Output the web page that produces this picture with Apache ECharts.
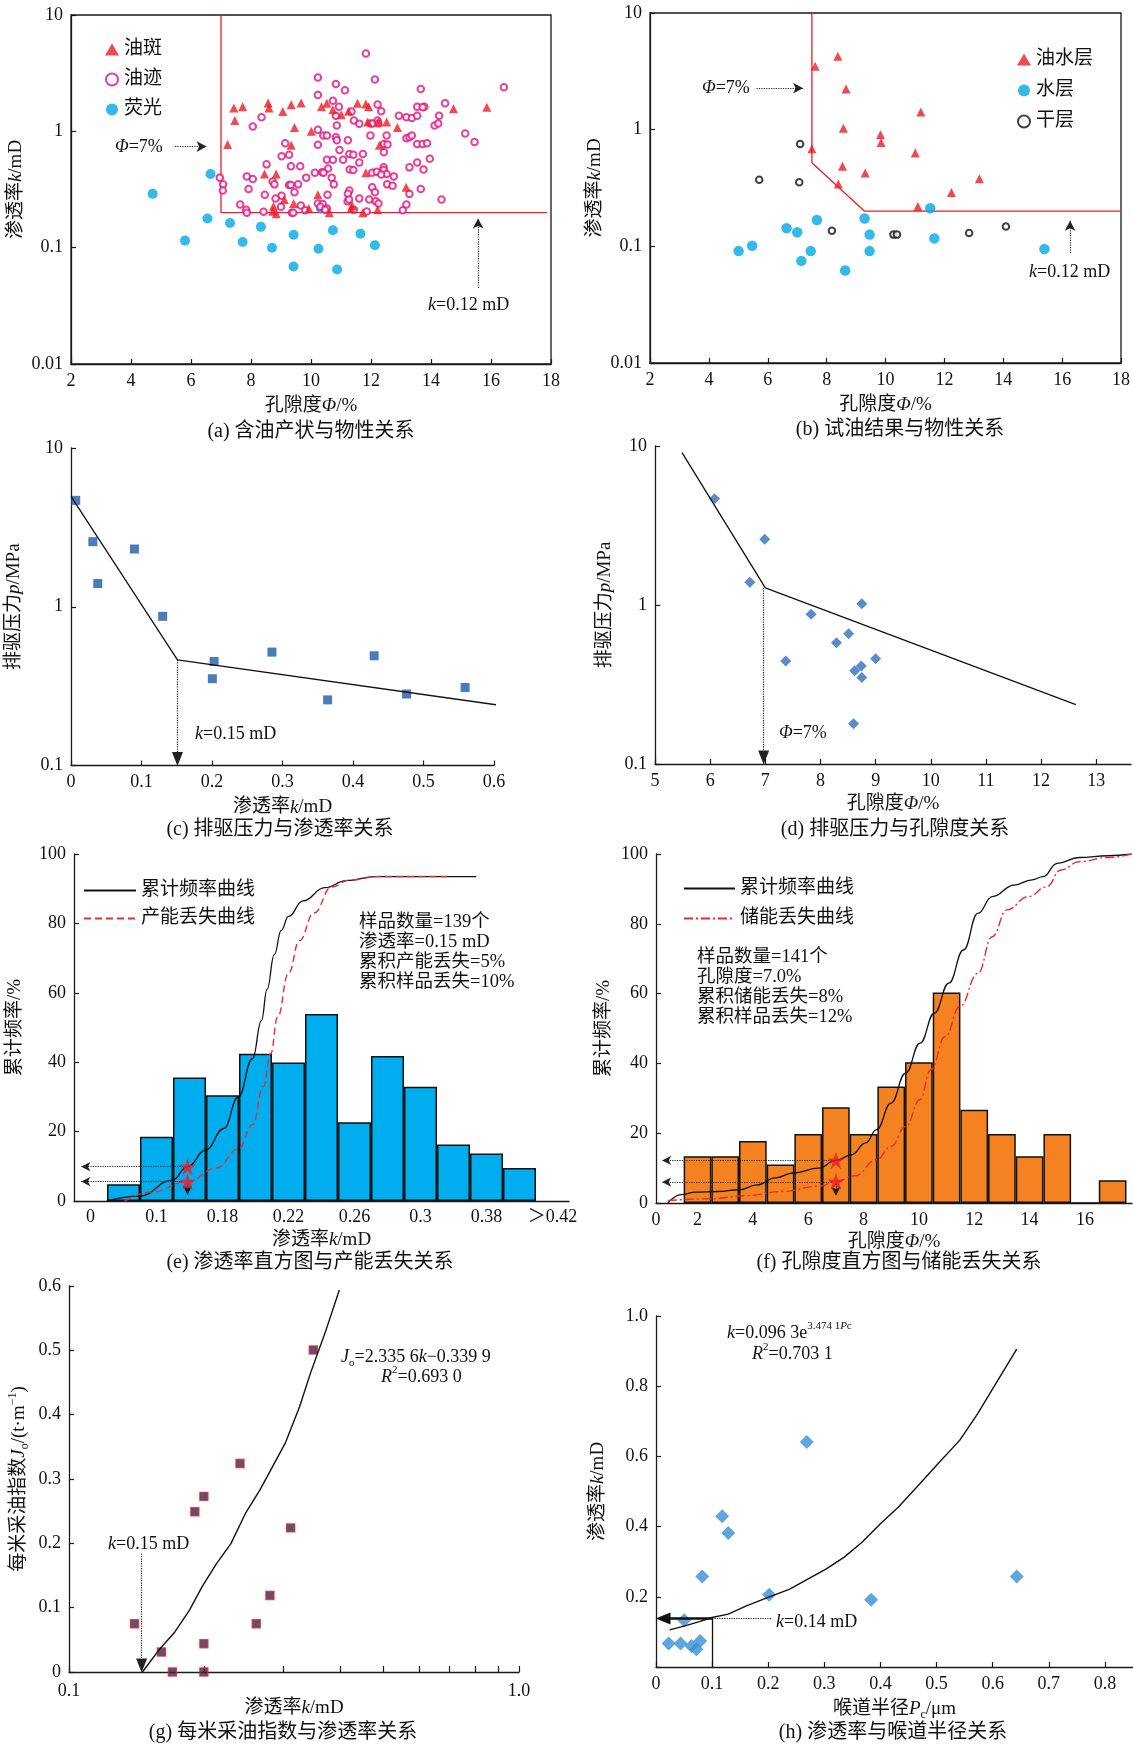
<!DOCTYPE html>
<html><head><meta charset="utf-8">
<script src="https://cdn.jsdelivr.net/npm/echarts@6.0.0/dist/echarts.min.js"></script>
<style>html,body{margin:0;padding:0;background:#fff}#c{width:1133px;height:1744px}</style>
</head><body><div id="c"></div>
<script>
// ---------------- DATA ----------------
// (a) porosity %, permeability mD
const spotA = [[7.43,1.59],[7.72,1.63],[7.46,1.24],[7.22,0.77],[8.57,1.75],[8.60,1.59],[9.06,1.48],[9.34,1.69],[9.67,1.75],[9.45,1.08],[9.34,0.76],[10.01,1.0],[10.23,0.285],[10.35,1.63],[10.53,1.74],[10.73,1.53],[11.01,1.39],[11.25,1.49],[11.55,1.74],[11.83,1.72],[11.92,1.63],[11.89,1.2],[12.25,1.2],[12.52,1.2],[12.88,1.08],[12.28,0.76],[11.83,0.44],[13.17,0.33],[14.75,1.56],[15.86,1.61],[8.45,0.43],[8.84,0.43],[8.75,0.227],[9.11,0.26],[9.42,0.24],[8.73,0.206],[8.84,0.196],[9.93,0.217],[10.61,0.20],[11.37,0.23],[11.34,0.217],[11.73,0.20],[12.22,0.212]];
const traceA = [[11.83,4.67],[10.23,2.90],[12.13,2.79],[10.83,2.55],[11.13,2.26],[13.66,2.31],[16.43,2.39],[10.23,2.05],[10.73,1.83],[10.93,1.63],[12.22,1.70],[12.34,1.49],[11.35,1.48],[14.47,1.74],[13.54,1.63],[13.78,1.63],[13.72,1.61],[14.27,1.36],[12.93,1.36],[13.18,1.32],[13.36,1.30],[13.54,1.36],[8.35,1.32],[8.06,1.10],[10.83,1.36],[11.43,1.24],[11.61,1.16],[11.98,1.17],[12.06,1.17],[12.22,1.24],[12.25,1.17],[10.86,1.12],[10.23,1.03],[14.12,1.12],[14.24,1.17],[15.14,0.96],[15.45,0.81],[12.52,0.92],[11.98,0.92],[10.41,0.92],[10.53,0.92],[10.83,0.89],[10.86,0.84],[11.23,0.84],[13.18,0.87],[13.28,0.89],[13.36,0.92],[9.14,0.79],[10.23,0.765],[12.43,0.78],[12.55,0.77],[13.54,0.78],[13.72,0.78],[13.87,0.79],[10.95,0.69],[12.43,0.66],[11.73,0.64],[11.28,0.64],[11.41,0.63],[9.27,0.63],[9.02,0.61],[10.53,0.57],[10.73,0.57],[11.07,0.57],[11.61,0.54],[13.96,0.58],[8.52,0.52],[9.33,0.50],[9.64,0.50],[13.54,0.54],[13.28,0.49],[13.75,0.47],[10.57,0.48],[12.42,0.49],[12.42,0.465],[11.29,0.47],[11.41,0.465],[7.86,0.41],[8.06,0.39],[10.13,0.44],[10.37,0.445],[10.42,0.44],[10.69,0.40],[9.84,0.40],[12.04,0.44],[12.19,0.45],[12.52,0.43],[12.76,0.41],[12.34,0.425],[6.96,0.40],[7.07,0.35],[7.06,0.31],[7.92,0.32],[8.72,0.37],[8.78,0.35],[9.27,0.345],[9.33,0.345],[9.57,0.35],[10.76,0.35],[12.04,0.33],[12.54,0.35],[12.72,0.34],[11.28,0.31],[13.66,0.32],[8.46,0.285],[9.02,0.28],[9.45,0.30],[10.55,0.285],[11.23,0.29],[12.13,0.30],[13.28,0.29],[14.35,0.26],[7.64,0.235],[7.84,0.212],[7.86,0.20],[8.42,0.204],[8.82,0.265],[9.0,0.225],[9.36,0.20],[9.66,0.23],[9.81,0.21],[10.23,0.24],[10.39,0.237],[10.53,0.217],[11.22,0.25],[11.27,0.26],[11.61,0.265],[11.94,0.26],[12.16,0.25],[12.25,0.24],[11.43,0.212],[11.86,0.205],[13.06,0.21],[13.18,0.235],[9.41,0.20],[10.31,0.225],[10.47,0.212]];
const fluorA = [[4.72,0.29],[6.65,0.43],[5.80,0.115],[6.55,0.178],[7.30,0.163],[7.72,0.112],[8.33,0.151],[8.70,0.10],[9.42,0.129],[9.42,0.069],[10.25,0.098],[10.73,0.141],[10.87,0.065],[11.65,0.132],[12.13,0.105],[10.33,0.217]];
const cutoffA = [[7,10],[7,0.2],[17.87,0.2]];

// (b)
const oilWaterB = [[8.38,4.25],[7.61,3.49],[8.66,2.23],[11.20,1.42],[8.57,1.03],[9.83,0.906],[9.85,0.778],[11.01,0.63],[7.50,0.687],[8.54,0.485],[9.31,0.425],[8.40,0.342],[13.19,0.38],[12.24,0.29],[11.10,0.22]];
const waterB = [[11.52,0.212],[9.29,0.173],[7.67,0.168],[6.64,0.143],[7.00,0.132],[9.46,0.126],[11.66,0.117],[5.01,0.091],[5.47,0.101],[7.46,0.091],[7.14,0.075],[9.46,0.091],[8.63,0.062],[15.40,0.095]];
const dryB = [[7.10,0.754],[5.71,0.373],[7.07,0.354],[8.18,0.136],[10.27,0.126],[10.39,0.126],[12.84,0.13],[14.09,0.148]];
const cutoffB = [[7.5,10],[7.5,0.52],[9.29,0.2],[18,0.2]];

// (c) permeability mD, displacement pressure MPa
const pressPermC = [[0.0067,4.68],[0.031,2.57],[0.090,2.31],[0.038,1.40],[0.130,0.87],[0.203,0.452],[0.2005,0.352],[0.285,0.518],[0.364,0.259],[0.430,0.491],[0.476,0.282],[0.559,0.31]];
const trendC = [[0,4.96],[0.151,0.463],[0.63,0.232]];

// (d) porosity %, displacement pressure MPa
const pressPorD = [[6.08,4.65],[6.99,2.59],[6.72,1.39],[8.75,1.02],[7.83,0.875],[8.51,0.659],[8.29,0.578],[7.37,0.444],[9.0,0.459],[8.74,0.413],[8.62,0.386],[8.75,0.35],[8.60,0.179]];
const trendD = [[5.49,9.08],[7.0,1.28],[12.63,0.236]];
const ticksD = [5,6,7,8,9,10,11,12,13];

// (e) permeability histogram (slots), cumulative curves in slot units
const binLabelsE = ['0','','0.1','','0.18','','0.22','','0.26','','0.3','','0.38','','＞0.42'];
const freqE = [null,4.8,18.5,35.6,30.5,42.4,39.9,53.9,22.7,41.8,32.9,16.3,13.7,9.5,null];
const cumE = [[0.99,0],[1.99,1.4],[2.98,6],[3.44,9.9],[3.99,14.7],[4.54,20.9],[4.98,30],[5.41,41],[5.68,52],[5.85,61],[6.07,71],[6.28,78],[6.50,82],[6.94,86.5],[7.60,90.3],[8.25,92.3],[9.13,93.5],[12.19,93.5]];
const lossE = [[1.53,0],[2.35,2.6],[3.44,5.6],[4.32,9.5],[4.98,15],[5.41,22],[5.74,33],[5.96,42.5],[6.17,53],[6.50,65.6],[6.83,75],[7.27,83],[7.81,90.5],[8.36,92.5],[9.23,93.5],[11.42,93.5]];
const starsE = [[3.44,9.9],[3.44,5.6]];
const notesE = ['样品数量=139个','渗透率=0.15 mD','累积产能丢失=5%','累积样品丢失=10%'];

// (f) porosity histogram
const binsF = [2,3,4,5,6,7,8,9,10,11,12,13,14,15,16,17];
const freqF = [13.4,13.4,17.8,11.0,19.8,27.4,19.8,33.4,40.3,60.3,26.7,19.8,13.4,19.8,0,6.5];
const cumF = [[0.93,0],[1.41,2.4],[1.93,3.1],[2.72,3.3],[3.50,3.8],[4.16,5.2],[4.81,7.2],[5.46,8.6],[6.38,10.0],[7.01,12.2],[7.56,13.8],[8.08,17.2],[8.47,21],[8.99,28.6],[9.52,37.2],[10.04,45.8],[10.56,54.4],[11.08,63],[11.61,72.5],[12.13,83],[12.65,87.8],[13.44,91.1],[14.09,92.6],[14.48,93.5],[15.0,97.3],[15.79,99.0],[16.84,99.5],[17.69,100]];
const lossF = [[0.93,0.7],[2.46,1.2],[3.76,2.1],[5.07,3.3],[6.38,4.8],[7.01,6.2],[7.69,7.8],[8.47,12.4],[8.99,16.2],[9.52,21.9],[10.04,29.6],[10.43,38.2],[10.95,47.7],[11.48,56.3],[12.13,65.8],[12.65,76.3],[13.18,84],[13.96,87.8],[14.61,90.6],[15.14,95.4],[15.79,97.8],[16.84,99],[17.69,100]];
const starsF = [[7.0,12.2],[7.0,6.2]];
const ticksF = [0.5,2,4,6,8,10,12,14,16];
const notesF = ['样品数量=141个','孔隙度=7.0%','累积储能丢失=8%','累积样品丢失=12%'];

// (g) permeability mD, oil index
const jPermG = [[0.1398,0.075],[0.1605,0.031],[0.1697,0],[0.1994,0],[0.1994,0.044],[0.1904,0.249],[0.1994,0.273],[0.2399,0.324],[0.2607,0.075],[0.2796,0.119],[0.3108,0.224],[0.3491,0.5005]];
const fitG = [[0.1456,0],[0.1582,0.0337],[0.1719,0.0622],[0.1851,0.0959],[0.1975,0.1322],[0.2127,0.1685],[0.2290,0.1996],[0.2466,0.2464],[0.2655,0.2827],[0.2859,0.3242],[0.3022,0.3553],[0.3254,0.4123],[0.3439,0.4642],[0.3704,0.5264],[0.3988,0.5938]];
const ticksG = [0.1,0.2,0.3,0.4,0.5,0.6,0.7,0.8,0.9,1.0];

// (h) throat radius um, permeability mD
const permThroatH = [[0.0225,0.0667],[0.0438,0.0667],[0.0631,0.06],[0.0721,0.0505],[0.0786,0.0743],[0.0502,0.1333],[0.0824,0.258],[0.1179,0.4295],[0.1288,0.3819],[0.2016,0.2057],[0.2686,0.641],[0.3833,0.1914],[0.6428,0.258]];
const fitH = [[0.0245,0.1057],[0.0515,0.1171],[0.0773,0.1295],[0.0998,0.1410],[0.1288,0.1505],[0.161,0.1743],[0.1997,0.1981],[0.2383,0.2219],[0.2705,0.2505],[0.3027,0.2790],[0.3349,0.3124],[0.3671,0.3552],[0.3994,0.4076],[0.4316,0.4552],[0.4702,0.5219],[0.5024,0.5790],[0.5411,0.6457],[0.5733,0.7219],[0.6055,0.8076],[0.6428,0.9057]];
const ticksH = [0,0.1,0.2,0.3,0.4,0.5,0.6,0.7,0.8];

// ---------------- STYLE ----------------
const FONT = '"Liberation Serif", "Noto Sans CJK SC", serif';
const AX = '#1a1a1a';
const RED = '#ec1c24', MAG = '#e4127b', CYAN = '#00a9e6';
const STAR = 'path://M50,0 L61.8,35.1 L98.1,35.1 L68.8,56.7 L79.4,90.9 L50,70 L20.6,90.9 L31.2,56.7 L1.9,35.1 L38.2,35.1 Z';

function RICH(sz){
  return {
    i:{fontStyle:'italic',fontFamily:FONT,fontSize:sz,lineHeight:24,color:'#111'},
    n:{fontFamily:FONT,fontSize:sz,lineHeight:24,color:'#111'},
    sub:{fontFamily:FONT,fontSize:Math.round(sz*0.62),lineHeight:11,verticalAlign:'bottom',color:'#111'},
    sup:{fontFamily:FONT,fontSize:Math.round(sz*0.62),lineHeight:11,verticalAlign:'top',color:'#111'},
    supi:{fontFamily:FONT,fontStyle:'italic',fontSize:Math.round(sz*0.62),lineHeight:11,verticalAlign:'top',color:'#111'}
  };
}
function isObj(o){return o && typeof o==='object' && !Array.isArray(o);}
function merge(a,b){const r=Object.assign({},a);for(const k in b){r[k]=(isObj(a[k])&&isObj(b[k]))?merge(a[k],b[k]):b[k];}return r;}
const nameTS = {color:'#111',fontFamily:FONT,fontSize:19,lineHeight:24,rich:RICH(19)};
const baseAxis = {
  axisLine:{show:true,onZero:false,lineStyle:{color:AX,width:1.3}},
  axisTick:{show:true,inside:true,length:5,lineStyle:{color:AX,width:1.2}},
  axisLabel:{color:'#111',fontFamily:FONT,fontSize:18},
  splitLine:{show:false},
  nameLocation:'middle', nameTextStyle:nameTS
};
function ax(o){return merge(baseAxis,o);}
const logFmt = v => v>=1 ? String(Math.round(v)) : String(parseFloat(v.toPrecision(2)));

function T(x,y,text,opt){
  opt=opt||{};
  const sz=opt.size||18;
  return {type:'text',x:x,y:y,silent:true,z:100,style:{text:text,fontFamily:FONT,fontSize:sz,fill:'#111',align:opt.align||'left',verticalAlign:'middle',lineHeight:24,rich:RICH(sz)}};
}
const dot = {type:'dotted',color:'#222',width:1.2};

const texts = [
  T(311,432,'(a) 含油产状与物性关系',{align:'center',size:20}),
  T(900,430,'(b) 试油结果与物性关系',{align:'center',size:20}),
  T(280,830,'(c) 排驱压力与渗透率关系',{align:'center',size:20}),
  T(895,830,'(d) 排驱压力与孔隙度关系',{align:'center',size:20}),
  T(310,1263,'(e) 渗透率直方图与产能丢失关系',{align:'center',size:20}),
  T(899,1263,'(f) 孔隙度直方图与储能丢失关系',{align:'center',size:20}),
  T(283,1733,'(g) 每米采油指数与渗透率关系',{align:'center',size:20}),
  T(893,1733,'(h) 渗透率与喉道半径关系',{align:'center',size:20}),
  T(115,147,'{i|Φ}=7%',{size:18}),
  T(428,305,'{i|k}=0.12 mD',{size:18}),
  T(702,88,'{i|Φ}=7%',{size:18}),
  T(1029,272,'{i|k}=0.12 mD',{size:18}),
  T(195,734,'{i|k}=0.15 mD',{size:18}),
  T(779,733,'{i|Φ}=7%',{size:18}),
  T(108,1544,'{i|k}=0.15 mD',{size:18}),
  T(341,1357,'{i|J}{sub|o}=2.335 6{i|k}−0.339 9',{size:18}),
  T(381,1377,'{i|R}{sup|2}=0.693 0',{size:18}),
  T(776,1622,'{i|k}=0.14 mD',{size:18}),
  T(727,1333,'{i|k}=0.096 3e{sup|3.474 1}{supi|P}{sup|c}',{size:18}),
  T(752,1354,'{i|R}{sup|2}=0.703 1',{size:18})
];
notesE.forEach((s,i)=>texts.push(T(359,922+20*i,s,{size:18.5})));
notesF.forEach((s,i)=>texts.push(T(697,957+20*i,s,{size:18.5})));

const legendText = {fontFamily:FONT,fontSize:19,color:'#111'};
const lineLegend = {orient:'vertical',padding:0,itemHeight:14,textStyle:legendText,selectedMode:false,itemStyle:{opacity:0,borderWidth:0}};

const option = {
  animation:false,
  backgroundColor:'#fff',
  textStyle:{fontFamily:FONT},
  grid:[
    {left:71,top:15,width:480,height:349,show:true,borderColor:AX,borderWidth:1.3,backgroundColor:'transparent'},
    {left:650,top:13,width:481,height:350,show:true,borderColor:AX,borderWidth:1.3,backgroundColor:'transparent'},
    {left:71,top:448,width:423,height:317.5},
    {left:655,top:446,width:476,height:318},
    {left:74,top:854,width:495,height:347},
    {left:656,top:854,width:476,height:349},
    {left:69,top:1286,width:450,height:386},
    {left:656,top:1316,width:477,height:351}
  ],
  xAxis:[
    ax({gridIndex:0,type:'value',min:2,max:18,interval:2,name:'孔隙度{i|Φ}/%',nameGap:30}),
    ax({gridIndex:1,type:'value',min:2,max:18,interval:2,name:'孔隙度{i|Φ}/%',nameGap:30}),
    ax({gridIndex:2,type:'value',min:0,max:0.6,interval:0.1,name:'渗透率{i|k}/mD',nameGap:30}),
    ax({gridIndex:3,type:'value',min:5,max:13.63,name:'孔隙度{i|Φ}/%',nameGap:28,
        axisTick:{customValues:ticksD},axisLabel:{customValues:ticksD}}),
    ax({gridIndex:4,type:'category',data:binLabelsE,name:'渗透率{i|k}/mD',nameGap:27,
        axisTick:{show:false},axisLabel:{interval:0,margin:7}}),
    {gridIndex:4,type:'value',min:0,max:15,show:false},
    ax({gridIndex:5,type:'value',min:0.5,max:17.7,name:'孔隙度{i|Φ}/%',nameGap:27,
        axisTick:{show:false},axisLabel:{customValues:ticksF,formatter:v=>v===0.5?'0':String(v)}}),
    ax({gridIndex:6,type:'log',logBase:10,min:0.1,max:1,name:'渗透率{i|k}/mD',nameGap:24,nameMoveOverlap:false,
        axisTick:{customValues:ticksG,length:6},axisLabel:{customValues:[0.1,1],formatter:v=>v>=0.99?'1.0':'0.1',margin:10}}),
    ax({gridIndex:7,type:'value',min:0,max:0.85,name:'喉道半径{i|P}{sub|c}/μm',nameGap:30,
        axisTick:{customValues:ticksH},axisLabel:{customValues:ticksH,formatter:v=>v===0?'0':String(+v.toFixed(1))}})
  ],
  yAxis:[
    ax({gridIndex:0,type:'log',logBase:10,min:0.01,max:10,name:'渗透率{i|k}/mD',nameGap:40,axisLabel:{formatter:logFmt}}),
    ax({gridIndex:1,type:'log',logBase:10,min:0.01,max:10,name:'渗透率{i|k}/mD',nameGap:38,axisLabel:{formatter:logFmt}}),
    ax({gridIndex:2,type:'log',logBase:10,min:0.1,max:10,name:'排驱压力{i|p}/MPa',nameGap:45,axisLabel:{formatter:logFmt}}),
    ax({gridIndex:3,type:'log',logBase:10,min:0.1,max:10,name:'排驱压力{i|p}/MPa',nameGap:38,axisLabel:{formatter:logFmt}}),
    ax({gridIndex:4,type:'value',min:0,max:100,interval:20,name:'累计频率/%',nameGap:47}),
    ax({gridIndex:5,type:'value',min:0,max:100,interval:20,name:'累计频率/%',nameGap:40}),
    ax({gridIndex:6,type:'value',min:0,max:0.6,interval:0.1,name:'每米采油指数{i|J}{sub|o}/(t·m{sup|−1})',nameGap:38,
        axisLabel:{formatter:v=>v===0?'0':v.toFixed(1)}}),
    ax({gridIndex:7,type:'value',min:0,max:1,interval:0.2,name:'渗透率{i|k}/mD',nameGap:46,
        axisLabel:{formatter:v=>v===0?'':v.toFixed(1)}})
  ],
  legend:[
    {data:['油斑','油迹','荧光'],left:105,top:40,orient:'vertical',padding:0,itemWidth:14,itemHeight:12,itemGap:11,textStyle:legendText,selectedMode:false},
    {data:['油水层','水层','干层'],left:1017,top:50,orient:'vertical',padding:0,itemWidth:14,itemHeight:12,itemGap:12,textStyle:legendText,selectedMode:false},
    merge(lineLegend,{data:['累计频率曲线','产能丢失曲线'],left:83,top:881,itemWidth:52,itemGap:9}),
    merge(lineLegend,{data:['累计频率曲线','储能丢失曲线'],left:683,top:879,itemWidth:51,itemGap:11})
  ],
  series:[
    // (a)
    {type:'line',xAxisIndex:0,yAxisIndex:0,data:cutoffA,symbol:'none',silent:true,lineStyle:{color:RED,width:1.3},z:1,
     markLine:{silent:true,animation:false,symbol:['none','arrow'],symbolSize:[8,10],label:{show:false},lineStyle:dot,
       data:[[{coord:[5.47,0.74]},{coord:[6.52,0.74]}],[{coord:[15.57,0.045]},{coord:[15.57,0.178]}]]}},
    {name:'荧光',type:'scatter',xAxisIndex:0,yAxisIndex:0,data:fluorA,symbol:'circle',symbolSize:10,itemStyle:{color:CYAN}},
    {name:'油迹',type:'scatter',xAxisIndex:0,yAxisIndex:0,data:traceA,symbol:'emptyCircle',symbolSize:6.5,itemStyle:{color:MAG,borderWidth:1.1}},
    {name:'油斑',type:'scatter',xAxisIndex:0,yAxisIndex:0,data:spotA,symbol:'triangle',symbolSize:9,itemStyle:{color:RED}},
    // (b)
    {type:'line',xAxisIndex:1,yAxisIndex:1,data:cutoffB,symbol:'none',silent:true,lineStyle:{color:RED,width:1.3},z:1,
     markLine:{silent:true,animation:false,symbol:['none','arrow'],symbolSize:[8,10],label:{show:false},lineStyle:dot,
       data:[[{coord:[5.62,2.27]},{coord:[7.2,2.27]}],[{coord:[16.27,0.0877]},{coord:[16.27,0.166]}]]}},
    {name:'水层',type:'scatter',xAxisIndex:1,yAxisIndex:1,data:waterB,symbol:'circle',symbolSize:10.5,itemStyle:{color:CYAN}},
    {name:'干层',type:'scatter',xAxisIndex:1,yAxisIndex:1,data:dryB,symbol:'emptyCircle',symbolSize:6.5,itemStyle:{color:'#111',borderWidth:1.5}},
    {name:'油水层',type:'scatter',xAxisIndex:1,yAxisIndex:1,data:oilWaterB,symbol:'triangle',symbolSize:9,itemStyle:{color:RED}},
    // (c)
    {type:'line',xAxisIndex:2,yAxisIndex:2,data:trendC,symbol:'none',clip:false,silent:true,lineStyle:{color:'#111',width:1.3},
     markLine:{silent:true,animation:false,symbol:['none','triangle'],symbolSize:[11,14],label:{show:false},lineStyle:dot,
       data:[[{coord:[0.151,0.463]},{coord:[0.151,0.11]}]]}},
    {type:'scatter',xAxisIndex:2,yAxisIndex:2,data:pressPermC,symbol:'rect',symbolSize:9,itemStyle:{color:'#1d5ba8'}},
    // (d)
    {type:'line',xAxisIndex:3,yAxisIndex:3,data:trendD,symbol:'none',silent:true,lineStyle:{color:'#111',width:1.3},
     markLine:{silent:true,animation:false,symbol:['none','triangle'],symbolSize:[11,14],label:{show:false},lineStyle:dot,
       data:[[{coord:[6.97,1.28]},{coord:[6.97,0.11]}]]}},
    {type:'scatter',xAxisIndex:3,yAxisIndex:3,data:pressPorD,symbol:'diamond',symbolSize:11,itemStyle:{color:'#2f6fbd'}},
    // (e)
    {type:'bar',xAxisIndex:4,yAxisIndex:4,data:freqE,barWidth:'100%',itemStyle:{color:'#00aeef',borderColor:'#111',borderWidth:1.5},silent:true},
    {name:'累计频率曲线',type:'line',xAxisIndex:5,yAxisIndex:4,data:cumE,symbol:'none',smooth:0.45,smoothMonotone:'x',itemStyle:{color:'#111'},lineStyle:{color:'#111',width:1.3},z:3},
    {name:'产能丢失曲线',type:'line',xAxisIndex:5,yAxisIndex:4,data:lossE,symbol:'none',smooth:0.45,smoothMonotone:'x',itemStyle:{color:'#ee2a2a'},lineStyle:{color:'#ee2a2a',width:1.4,type:[7,4]},z:3,
     markLine:{silent:true,animation:false,symbol:['none','arrow'],symbolSize:[7,9],label:{show:false},lineStyle:dot,
       data:[[{coord:[3.3,9.9]},{coord:[0.22,9.9]}],[{coord:[3.3,5.6]},{coord:[0.22,5.6]}],[{coord:[3.44,5.0]},{coord:[3.44,1.8]}]]}},
    {type:'scatter',xAxisIndex:5,yAxisIndex:4,data:starsE,symbol:STAR,symbolSize:17,itemStyle:{color:RED},z:5},
    // (f)
    {type:'bar',xAxisIndex:6,yAxisIndex:5,data:binsF.map((b,i)=>[b,freqF[i]]),barWidth:27.7,itemStyle:{color:'#f58220',borderColor:'#111',borderWidth:1.5},silent:true},
    {name:'累计频率曲线',type:'line',xAxisIndex:6,yAxisIndex:5,data:cumF,symbol:'none',smooth:0.45,smoothMonotone:'x',itemStyle:{color:'#111'},lineStyle:{color:'#111',width:1.3},z:3},
    {name:'储能丢失曲线',type:'line',xAxisIndex:6,yAxisIndex:5,data:lossF,symbol:'none',smooth:0.45,smoothMonotone:'x',itemStyle:{color:'#ee2a2a'},lineStyle:{color:'#ee2a2a',width:1.4,type:[9,3,2,3]},z:3,
     markLine:{silent:true,animation:false,symbol:['none','arrow'],symbolSize:[7,9],label:{show:false},lineStyle:dot,
       data:[[{coord:[6.85,12.2]},{coord:[0.72,12.2]}],[{coord:[6.85,6.0]},{coord:[0.72,6.0]}],[{coord:[7.0,5.5]},{coord:[7.0,2.1]}]]}},
    {type:'scatter',xAxisIndex:6,yAxisIndex:5,data:starsF,symbol:STAR,symbolSize:17,itemStyle:{color:RED},z:5},
    // (g)
    {type:'line',xAxisIndex:7,yAxisIndex:6,data:fitG,symbol:'none',silent:true,lineStyle:{color:'#111',width:1.4},
     markLine:{silent:true,animation:false,symbol:['none','triangle'],symbolSize:[11,14],label:{show:false},lineStyle:dot,
       data:[[{coord:[0.145,0.184]},{coord:[0.145,0.01]}]]}},
    {type:'scatter',xAxisIndex:7,yAxisIndex:6,data:jPermG,symbol:'rect',symbolSize:8,itemStyle:{color:'#2b2a55',borderColor:RED,borderWidth:1.4}},
    // (h)
    {type:'line',xAxisIndex:8,yAxisIndex:7,data:fitH,symbol:'none',silent:true,lineStyle:{color:'#111',width:1.4},
     markLine:{silent:true,animation:false,symbol:['none','none'],label:{show:false},lineStyle:{type:'solid',color:'#111',width:1.3},
       data:[
         [{coord:[0.1,0.138],lineStyle:{width:2.5}},{coord:[0.0125,0.138],symbol:'triangle',symbolSize:[12,15]}],
         [{coord:[0.1,0.138],lineStyle:{type:'dotted',width:1.2}},{coord:[0.206,0.138]}],
         [{coord:[0.1,0]},{coord:[0.1,0.138]}]
       ]}},
    {type:'scatter',xAxisIndex:8,yAxisIndex:7,data:permThroatH,symbol:'diamond',symbolSize:14,itemStyle:{color:'#3a8ed6'}}
  ],
  graphic:{elements:texts}
};
const chart = echarts.init(document.getElementById('c'),null,{renderer:'canvas'});
chart.setOption(option);
</script></body></html>
